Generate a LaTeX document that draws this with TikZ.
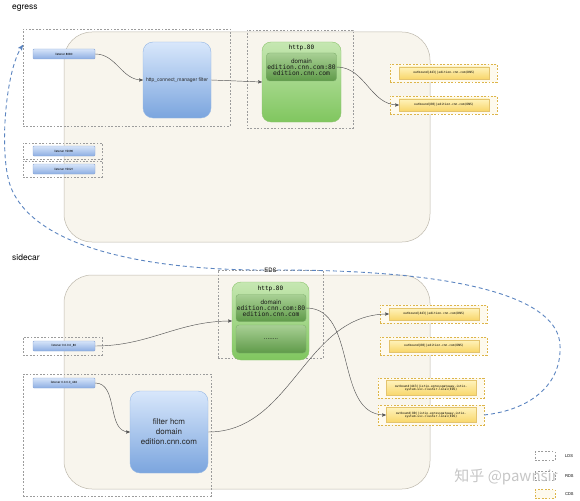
\documentclass[tikz,border=0pt]{standalone}
\usepackage{fontspec}
\setmainfont{TeX Gyre Heros}
\newfontfamily\monofont{DejaVu Sans Mono}
\newfontfamily\cjkfont{Noto Sans CJK SC}
\usetikzlibrary{arrows, positioning, calc}
\definecolor{panelfill}{HTML}{F8F5ED}
\definecolor{panelline}{HTML}{BDB8AC}
\definecolor{dashgray}{HTML}{9C9C9C}
\definecolor{cdsline}{HTML}{DDB54A}
\definecolor{cdsfill}{HTML}{FEFAEE}
\definecolor{lsttop}{HTML}{D6E4F9}
\definecolor{lstbot}{HTML}{8CADE2}
\definecolor{lstline}{HTML}{8AA6D6}
\definecolor{hcmtop}{HTML}{D8E7FB}
\definecolor{hcmbot}{HTML}{7BA5DE}
\definecolor{gtop}{HTML}{C6E7B2}
\definecolor{gbot}{HTML}{80C65F}
\definecolor{gline}{HTML}{8CC46E}
\definecolor{dtop}{HTML}{A8D094}
\definecolor{dbot}{HTML}{5F9A49}
\definecolor{obtop}{HTML}{FFF3BC}
\definecolor{obbot}{HTML}{F8D66A}
\definecolor{connline}{HTML}{555555}
\definecolor{edsblue}{HTML}{5B84C0}
\tikzset{
    panel/.style={ % big cream area
    draw=panelline, fill=panelfill, rounded corners=28pt, line width=0.5pt,
    inner sep=0pt, outer sep=0pt},
    ldsbox/.style={ % dashed grey frame
    draw=dashgray, dash pattern=on 1.8pt off 1.6pt, line width=0.55pt,
    inner sep=0pt, outer sep=0pt},
    cdsbox/.style={ % dashed yellow frame
    draw=cdsline, fill=cdsfill, dash pattern=on 1.8pt off 1.6pt, line width=0.6pt,
    inner sep=0pt, outer sep=0pt},
    lstnode/.style={ % listener bar
    draw=lstline, top color=lsttop, bottom color=lstbot, rounded corners=1pt,
    minimum width=62pt, minimum height=10pt, inner sep=0pt,
    font=\fontsize{3}{3.5}\selectfont},
    hcmnode/.style={ % filter block
    draw=hcmbot!80, top color=hcmtop, bottom color=hcmbot, rounded corners=10pt,
    inner sep=1pt, align=center, text=black!85},
    greenbox/.style={
    draw=gline, top color=gtop, bottom color=gbot, rounded corners=9pt, inner sep=0pt},
    domnode/.style={
    draw=dbot!80, top color=dtop, bottom color=dbot, rounded corners=3pt,
    minimum width=70pt, inner sep=0pt, align=center, text=black!90,
    font=\fontsize{6.3}{5.8}\selectfont},
    httptitle/.style={font=\monofont\fontsize{6}{7}\selectfont, inner sep=0pt},
    obnode/.style={ % outbound cluster bar
    draw=cdsline!80, top color=obtop, bottom color=obbot,
    minimum width=90pt, minimum height=12pt, inner sep=0pt, align=center,
    font=\monofont\fontsize{3}{3.6}\selectfont},
    sectext/.style={font=\fontsize{8.5}{10}\selectfont, inner sep=0pt},
    lgtext/.style={font=\fontsize{4}{5}\selectfont, inner sep=0pt},
    conn/.style={draw=connline, line width=0.45pt, ->, >=stealth'},
    edsflow/.style={draw=edsblue, dash pattern=on 4pt off 3pt, line width=0.9pt, ->, >=stealth'}
}
\begin{document}
\begin{tikzpicture}[x=1pt, y=-1pt]
    \useasboundingbox (0,0) rectangle (580,500);

    % egress gateway
    \node[sectext, anchor=west] (egname) at (12,8) {egress};
    \node[panel, anchor=north west, minimum width=366pt, minimum height=210pt] (egpanel) at (64,32) {};
    \node[ldsbox, anchor=north west, minimum width=207pt, minimum height=97pt] (eglds) at (23,29) {};
    \node[ldsbox, anchor=north west, minimum width=106pt, minimum height=98pt] (egrds) at (247,30) {};
    \node[lstnode] (lst8080) at (64,54) {listener 8080};
    \node[hcmnode, minimum width=68pt, minimum height=76pt, font=\fontsize{5}{6}\selectfont] (hcm) at (177,80) {http\_connect\_manager filter};
    \node[greenbox, minimum width=79pt, minimum height=80pt] (eghttp) at (301.5,82) {};
    \node[httptitle, below=3pt of eghttp.north] (eghttpname) {http.80};
    \node[domnode, minimum height=28pt] (egdom) at (301.5,67) {domain\\{\monofont edition.cnn.com:80}\\{\monofont edition.cnn.com}};
    \node[cdsbox, anchor=north west, minimum width=107pt, minimum height=18pt] (egcdsa) at (390,64) {};
    \node[obnode] (egob443) at (444,73) {outbound|443||edition.cnn.com(DNS)};
    \node[cdsbox, anchor=north west, minimum width=107pt, minimum height=18pt] (egcdsb) at (390,96) {};
    \node[obnode] (egob80) at (444,105) {outbound|80||edition.cnn.com(DNS)};
    \node[ldsbox, anchor=north west, minimum width=79pt, minimum height=16pt] (ldsa) at (23,143) {};
    \node[lstnode] (lst15090) at (64,151) {listener 15090};
    \node[ldsbox, anchor=north west, minimum width=79pt, minimum height=16pt] (ldsb) at (23,161) {};
    \node[lstnode] (lst15021) at (64,169) {listener 15021};

    \draw[conn] (lst8080.east) to[out=0, in=180] (hcm.west);
    \draw[conn] (hcm.east) -- (eghttp.west);
    \draw[conn] (egdom.east) to[out=0, in=180] (egob80.west);

    % sidecar
    \node[sectext, anchor=west] (scname) at (12,257) {sidecar};
    \node[panel, anchor=north west, minimum width=366pt, minimum height=214pt] (scpanel) at (64,275) {};
    \node[ldsbox, anchor=north west, minimum width=105pt, minimum height=88pt] (eds) at (218,270) {};
    \node[ldsbox, anchor=north west, minimum width=79pt, minimum height=18pt] (ldsc) at (23,337) {};
    \node[lstnode] (lst80) at (64,346) {listener 0.0.0.0\_80};
    \node[ldsbox, anchor=north west, minimum width=188pt, minimum height=122pt] (sclds) at (23,374) {};
    \node[lstnode] (lst443) at (64,383) {listener 0.0.0.0\_443};
    \node[hcmnode, minimum width=78pt, minimum height=82pt, font=\fontsize{8}{10}\selectfont] (hcmb) at (169,432) {filter hcm\\domain\\edition.cnn.com};
    \node[greenbox, minimum width=77pt, minimum height=78pt] (schttp) at (270.5,321) {};
    \node[httptitle, below=4pt of schttp.north] (schttpname) {http.80};
    \node[domnode, minimum height=27pt] (scdom) at (271,308) {domain\\{\monofont edition.cnn.com:80}\\{\monofont edition.cnn.com}};
    \node[domnode, minimum height=28pt] (scdots) at (271,339) {........};
    \node[cdsbox, anchor=north west, minimum width=107pt, minimum height=18pt] (sccdsa) at (380,305) {};
    \node[obnode] (scob443) at (434,314) {outbound|443||edition.cnn.com(DNS)};
    \node[cdsbox, anchor=north west, minimum width=107pt, minimum height=18pt] (sccdsb) at (380,337) {};
    \node[obnode] (scob80) at (434,346) {outbound|80||edition.cnn.com(DNS)};
    \node[cdsbox, anchor=north west, minimum width=106pt, minimum height=20pt] (sccdsc) at (378,378) {};
    \node[obnode, minimum height=15pt] (scgw443) at (431,388) {outbound|443||istio-egressgateway.istio-\\system.svc.cluster.local(EDS)};
    \node[cdsbox, anchor=north west, minimum width=106pt, minimum height=20pt] (sccdsd) at (378,405) {};
    \node[obnode, minimum height=15pt] (scgw80) at (431,415) {outbound|80||istio-egressgateway.istio-\\system.svc.cluster.local(EDS)};

    \draw[conn] (lst80.east) to[out=0, in=180] (schttp.west);
    \draw[conn] (lst443.east) to[out=0, in=180] (hcmb.west);
    \draw[conn] (hcmb.east) to[out=0, in=180] (scob443.west);
    \draw[conn] (scdom.east) to[out=0, in=180] (scgw80.west);

    % EDS link back to the egress listener
    \node[font=\fontsize{6}{7}\selectfont, inner sep=0.5pt] (edsname) at (eds.north) {EDS};
    \coordinate (edsin) at (23,45);
    \draw[edsflow] (sccdsd.east) .. controls (530,410) and (562,385) .. (560,345)
        .. controls (558,300) and (470,270) .. (edsname.east)
        (edsname.west) .. controls (160,270) and (40,252) .. (12,190)
        .. controls (-2,160) and (5,70) .. (edsin);

    % legend
    \node[ldsbox, minimum width=20pt, minimum height=9pt] (lgl) at (545,456) {};
    \node[lgtext, anchor=west] (lgltext) at (565,456) {LDS};
    \node[ldsbox, minimum width=20pt, minimum height=9pt] (lgr) at (545,476) {};
    \node[lgtext, anchor=west] (lgrtext) at (565,476) {RDS};
    \node[cdsbox, minimum width=20pt, minimum height=9pt] (lgc) at (545,494) {};
    \node[lgtext, anchor=west] (lgctext) at (565,494) {CDS};
    \node[font=\cjkfont\fontsize{15}{15}\selectfont, text=gray!45, inner sep=0pt] (wmark) at (506,477) {知乎 @pawnsir};
\end{tikzpicture}
\end{document}
